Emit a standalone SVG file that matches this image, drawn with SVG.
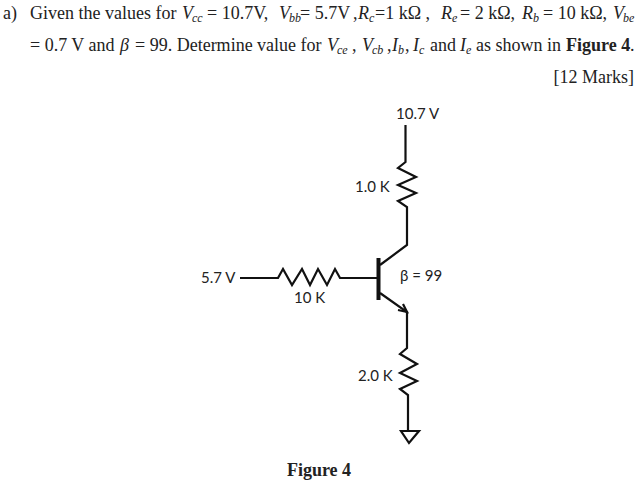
<svg xmlns="http://www.w3.org/2000/svg" width="640" height="483" viewBox="0 0 640 483">
<style>
.q{font-family:"Liberation Serif",serif;font-size:18px;fill:#222}
.i{font-style:italic}
.s{font-style:italic;font-size:12px}
.b{font-weight:bold}
.l{font-family:"Lato","Liberation Sans",sans-serif;font-size:15px;fill:#222}
.w{fill:none;stroke:#111;stroke-width:2.200;stroke-linejoin:miter}
</style>
<rect width="640" height="483" fill="#fff"/>
<g id="question">
<text class="q" y="19"><tspan x="3">a)</tspan><tspan x="30">Given the values for</tspan><tspan x="182" class="i">V</tspan><tspan x="192" dy="3" class="s">cc</tspan><tspan x="207" dy="-3">= 10.7V,</tspan><tspan x="279" class="i">V</tspan><tspan x="289" dy="3" class="s">bb</tspan><tspan x="300" dy="-3">= 5.7V</tspan><tspan x="353">,</tspan><tspan x="358" class="i">R</tspan><tspan x="369" dy="3" class="s">c</tspan><tspan x="375" dy="-3">=1 kΩ ,</tspan><tspan x="441" class="i">R</tspan><tspan x="452" dy="3" class="s">e</tspan><tspan x="460" dy="-3">= 2 kΩ,</tspan><tspan x="522" class="i">R</tspan><tspan x="533" dy="3" class="s">b</tspan><tspan x="543" dy="-3">= 10 kΩ,</tspan><tspan x="613" class="i">V</tspan><tspan x="623" dy="3" class="s">be</tspan></text>
<text class="q" y="51"><tspan x="30">= 0.7 V and</tspan><tspan x="120" class="i">β</tspan><tspan x="135">= 99. Determine value for</tspan><tspan x="327" class="i">V</tspan><tspan x="337" dy="3" class="s">ce</tspan><tspan x="352" dy="-3">,</tspan><tspan x="362" class="i">V</tspan><tspan x="372" dy="3" class="s">cb</tspan><tspan x="387" dy="-3">,</tspan><tspan x="392" class="i">I</tspan><tspan x="398" dy="3" class="s">b</tspan><tspan x="405" dy="-3">,</tspan><tspan x="413" class="i">I</tspan><tspan x="419" dy="3" class="s">c</tspan><tspan x="430" dy="-3">and</tspan><tspan x="460" class="i">I</tspan><tspan x="466" dy="3" class="s">e</tspan><tspan x="476" dy="-3">as shown in</tspan><tspan x="566" class="b">Figure 4</tspan><tspan x="630">.</tspan></text>
<text class="q" x="634" y="83" text-anchor="end">[12 Marks]</text>
<text class="q b" x="319" y="476" text-anchor="middle">Figure 4</text>
</g>
<g id="connectors">
<path class="w" d="M405.500 125V162L398 168 416 177 398 185 416 193 398 201 407 207V245L380 265"/>
<path class="w" d="M240 278H278L283 269 292 285 302 269 310 285 318 269 327 285 335 269 340 278H378"/>
<path class="w" d="M380 293L407 312V348L400 354 417 364 400 373 417 381 400 389 408 395V431"/>
<path class="w" d="M398 310L407 312 403 304"/>
</g>
<g id="transistor"><rect x="376.500" y="258" width="4" height="42" fill="#111"/></g>
<g id="ground"><path class="w" d="M401 431H419L409 443Z"/></g>
<g id="labels">
<text class="l" x="396" y="119">10.7 V</text>
<text class="l" x="355" y="192">1.0 K</text>
<text class="l" x="201" y="283">5.7 V</text>
<text class="l" x="294" y="303">10 K</text>
<text class="l" x="400" y="281" fill="#333">β = 99</text>
<text class="l" x="358" y="381">2.0 K</text>
</g>
</svg>
